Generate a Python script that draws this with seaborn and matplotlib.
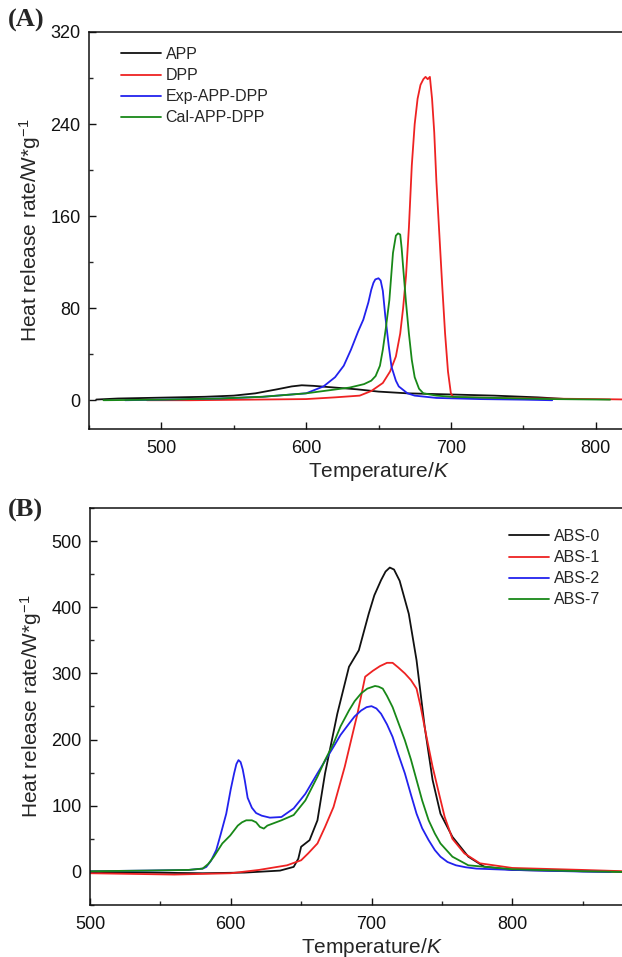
import numpy as np
import pandas as pd
import matplotlib
matplotlib.use("Agg")
import matplotlib.pyplot as plt
import seaborn as sns
from matplotlib.ticker import MultipleLocator, FixedLocator

# ---------------- Panel A data ----------------
app_T = [455, 470, 490, 510, 530, 550, 565, 580, 590, 597, 605, 620, 635, 650, 670, 700, 730, 760, 780]
app_hrr = [0.6, 1.5, 2.0, 2.5, 3.0, 4.0, 6.0, 9.5, 12.0, 13.0, 12.5, 11.0, 9.5, 7.5, 6.0, 5.0, 4.0, 2.5, 1.0]

dpp_T = [490, 520, 560, 600, 620, 637, 645, 653, 658, 662, 665, 667, 669, 671, 673, 675, 677, 679,
         681, 682.5, 684, 685.5, 687, 688.5, 690, 692, 694, 696, 698, 700, 702, 710, 730, 760, 800, 830]
dpp_hrr = [0.0, 0.0, 0.5, 1.0, 2.5, 4.0, 8.0, 15.0, 25.0, 38.0, 58.0, 80.0, 108.0, 150.0, 204.0, 240.0,
           262.0, 274.0, 279.0, 281.0, 279.0, 281.0, 262.0, 233.0, 190.0, 145.0, 100.0, 58.0, 25.0,
           6.0, 2.0, 2.5, 2.0, 1.5, 1.0, 0.5]

exp_T = [475, 500, 540, 570, 600, 612, 620, 626, 631, 636, 639.5, 643, 645, 646.5, 647.8, 650, 651.5,
         653, 654.7, 657, 659, 662, 664, 670, 675, 690, 720, 750, 770]
exp_hrr = [0.0, 0.5, 1.5, 3.0, 6.0, 12.0, 20.0, 30.0, 44.0, 60.0, 70.0, 85.0, 96.0, 102.0, 105.0,
           106.0, 104.0, 95.0, 73.0, 48.0, 29.0, 17.0, 12.0, 6.0, 4.0, 2.0, 1.0, 0.5, 0.0]

cal_T = [460, 500, 540, 570, 600, 630, 640, 645, 648, 651, 653, 655, 657.5, 660, 662, 663.5, 665, 666,
         667, 669, 671, 673, 675, 678, 681, 690, 700, 730, 770, 810]
cal_hrr = [0.0, 0.5, 1.5, 3.0, 6.0, 11.0, 14.0, 17.0, 21.0, 30.0, 44.0, 62.0, 87.0, 128.0, 143.0, 145.0,
           144.0, 132.0, 116.0, 85.0, 58.0, 35.0, 20.0, 10.0, 6.0, 4.0, 3.0, 2.0, 1.0, 0.5]

# ---------------- Panel B data ----------------
abs0_T = [500, 540, 580, 610, 635, 644.7, 648, 650, 656, 661.6, 667, 675.7, 684, 691, 698, 702, 706.8,
          710, 713, 716, 720, 726.5, 732, 737.8, 743.4, 749, 757.5, 768.8, 780, 800, 850, 880]
abs0_hrr = [0.0, -1.0, -2.0, -1.0, 2.0, 7.6, 20.0, 38.0, 48.0, 78.0, 149.0, 239.0, 310.0, 335.0, 390.0,
            418.0, 441.0, 454.0, 460.0, 457.0, 440.0, 390.0, 320.0, 219.0, 139.0, 88.0, 53.0, 23.0,
            8.0, 3.0, 1.0, 0.0]

abs1_T = [500, 530, 560, 600, 620, 640, 644.7, 650, 655, 661.6, 667, 673, 681, 690, 695.5, 701, 706,
          711, 715, 719, 723.7, 728, 732, 735, 739, 743.4, 748, 752, 757.5, 766, 777, 800, 850, 880]
abs1_hrr = [-2.0, -3.0, -4.0, -2.0, 3.0, 10.0, 13.6, 17.6, 28.0, 43.0, 68.0, 98.0, 159.0, 239.0, 295.0,
            304.0, 311.0, 316.0, 316.0, 309.0, 300.0, 290.0, 277.0, 249.0, 205.0, 159.0, 118.0, 83.0,
            50.0, 28.0, 13.0, 6.0, 3.0, 1.0]

abs2_T = [500, 540, 570, 580, 582.6, 586, 589.7, 593, 596.8, 600, 602.4, 604, 605.5, 607, 608.5, 610,
          612, 615, 618, 622, 627.8, 636, 644.7, 653, 661.6, 667, 673, 678, 684, 688, 692.7, 696.5, 700,
          703.5, 706.8, 711, 715, 719, 723.7, 728, 732, 736, 740.6, 745, 749, 754, 760, 767, 774.5,
          800, 850, 870]
abs2_hrr = [1.0, 2.0, 3.0, 5.0, 7.5, 17.0, 33.0, 58.0, 88.0, 125.0, 149.0, 163.0, 169.0, 166.0, 155.0,
            138.0, 112.0, 97.0, 89.0, 85.0, 82.0, 83.0, 96.0, 118.0, 149.0, 168.0, 189.0, 207.0, 224.0,
            235.0, 244.0, 249.0, 250.5, 247.0, 239.0, 223.0, 204.0, 178.0, 149.0, 117.0, 88.0, 66.0,
            48.0, 33.0, 23.0, 15.0, 10.0, 7.0, 5.0, 3.0, 0.5, 0.0]

abs7_T = [500, 540, 570, 580, 584, 588, 594, 599.6, 605, 608, 611, 615, 618, 620.7, 623.5, 626, 631, 636,
          644.7, 653, 661.6, 667, 673, 678, 684, 688, 692.7, 697, 702.5, 705, 708, 711, 715, 719, 723.7,
          728, 732, 736, 740.6, 745, 749, 757.5, 768.8, 800, 850, 880]
abs7_hrr = [1.0, 2.0, 3.0, 5.0, 12.0, 23.0, 43.0, 55.0, 70.0, 75.0, 78.0, 78.0, 75.0, 68.0, 65.5, 70.0,
            74.0, 78.0, 86.0, 108.0, 144.0, 169.0, 194.0, 220.0, 244.0, 258.0, 270.0, 277.0, 281.0,
            280.0, 277.0, 266.0, 249.0, 226.0, 199.0, 170.0, 139.0, 108.0, 78.0, 58.0, 43.0, 23.0,
            10.0, 4.0, 1.0, 0.0]

labels_a = ["APP", "DPP", "Exp-APP-DPP", "Cal-APP-DPP"]
labels_b = ["ABS-0", "ABS-1", "ABS-2", "ABS-7"]
colors = ["#111111", "#ee2222", "#2222ee", "#188818"]
xticks_a = [500, 600, 700, 800]
xticks_b = [500, 600, 700, 800]

def long_df(pairs, labels):
    frames = []
    for (t, h), lab in zip(pairs, labels):
        frames.append(pd.DataFrame({"T": t, "HRR": h, "sample": lab}))
    return pd.concat(frames, ignore_index=True)

df_a = long_df([(app_T, app_hrr), (dpp_T, dpp_hrr), (exp_T, exp_hrr), (cal_T, cal_hrr)], labels_a)
df_b = long_df([(abs0_T, abs0_hrr), (abs1_T, abs1_hrr), (abs2_T, abs2_hrr), (abs7_T, abs7_hrr)], labels_b)

sns.set_theme(style="ticks")
plt.rcParams["font.family"] = ["Liberation Sans", "DejaVu Sans"]
plt.rcParams["mathtext.fontset"] = "custom"
plt.rcParams["mathtext.rm"] = "Liberation Sans"
plt.rcParams["mathtext.it"] = "Liberation Sans:italic"

fig = plt.figure(figsize=(6.22, 9.57), dpi=100)
W, H = 622.0, 957.0

ax_a = fig.add_axes([89 / W, 1 - 429 / H, 579 / W, 397 / H])
ax_b = fig.add_axes([90 / W, 1 - 905 / H, 563 / W, 397 / H])

for ax, df, labels, xlim, ylim, xt, ymaj, ymin_ in [
    (ax_a, df_a, labels_a, (450, 850), (-25, 320), xticks_a, 80, 40),
    (ax_b, df_b, labels_b, (500, 900), (-50, 550), xticks_b, 100, 50),
]:
    sns.lineplot(data=df, x="T", y="HRR", hue="sample", hue_order=labels,
                 palette=colors, sort=False, estimator=None, linewidth=1.3, ax=ax)
    ax.set_xlim(*xlim)
    ax.set_ylim(*ylim)
    ax.xaxis.set_major_locator(FixedLocator(xt))
    ax.xaxis.set_minor_locator(MultipleLocator(50))
    ax.yaxis.set_major_locator(MultipleLocator(ymaj))
    ax.yaxis.set_minor_locator(MultipleLocator(ymin_))
    ax.tick_params(which="major", direction="in", length=5, width=1.0, labelsize=13, pad=6,
                   colors="#111111")
    ax.tick_params(which="minor", direction="in", length=3, width=1.0)
    ax.tick_params(axis="x", which="major", pad=8)
    for s in ax.spines.values():
        s.set_linewidth(1.1)
        s.set_color("#111111")
    ax.set_xlabel("Temperature/$K$", fontsize=15, labelpad=2)
    ax.set_ylabel("Heat release rate/W*g$^{-1}$", fontsize=15, labelpad=5)

ax_a.legend(loc="upper left", bbox_to_anchor=(0.055, 0.962), frameon=False, fontsize=11.5,
            handlelength=2.5, handletextpad=0.3, labelspacing=0.38, borderaxespad=0, borderpad=0)
ax_b.legend(loc="upper left", bbox_to_anchor=(0.744, 0.947), frameon=False, fontsize=11.5,
            handlelength=2.5, handletextpad=0.3, labelspacing=0.38, borderaxespad=0, borderpad=0)

fig.text(8 / W, 1 - 20 / H, "(A)", fontsize=19, fontweight="bold", family="Liberation Serif",
         va="center", ha="left")
fig.text(8 / W, 1 - 510 / H, "(B)", fontsize=19, fontweight="bold", family="Liberation Serif",
         va="center", ha="left")

fig.savefig("out.png", dpi=100)
